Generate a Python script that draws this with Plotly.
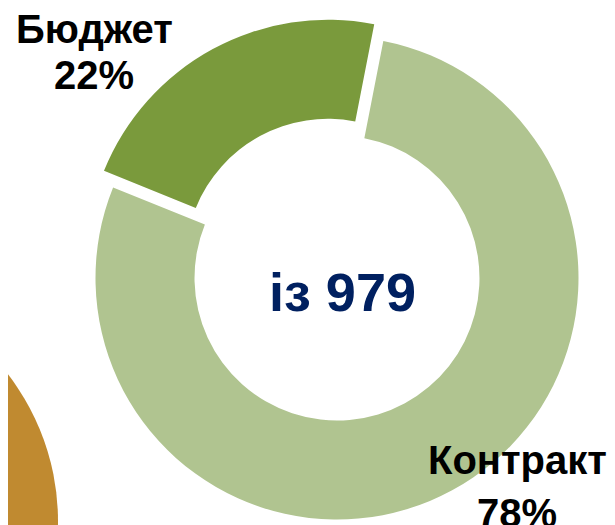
import plotly.graph_objects as go

# data
categories = ["Бюджет", "Контракт"]
counts = [215, 764]
total = sum(counts)
percents = [round(100 * c / total) for c in counts]

slice_colors = ["#7A9A3C", "#B0C490"]
font_style = dict(family="Arial, Liberation Sans", color="#000000", size=40)

# the page body has an 8px margin, so the figure is drawn 8px in
OFF = 8
W, H = 615 - OFF, 525 - OFF


def px(x):
    return (x - OFF) / W


def py(y):
    return 1 - (y - OFF) / H


def domain_for(cx, cy, r):
    # window pixel centre / radius -> paper domain (margins are zero)
    return dict(x=[px(cx - r), px(cx + r)], y=[py(cy + r), py(cy - r)])


common = dict(
    labels=categories,
    values=counts,
    hole=0.59,
    sort=False,
    direction="clockwise",
    rotation=-68,
    textinfo="none",
    hoverinfo="label+percent",
    showlegend=False,
)

fig = go.Figure()

# Контракт ring
fig.add_trace(go.Pie(
    **common,
    marker=dict(colors=["rgba(0,0,0,0)", slice_colors[1]]),
    domain=domain_for(337, 278, 241.5),
))

# Бюджет slice, pulled out along its bisector
fig.add_trace(go.Pie(
    **common,
    marker=dict(colors=[slice_colors[0], "rgba(0,0,0,0)"]),
    domain=domain_for(327.9, 261.3, 241.5),
))

# neighbouring chart, cropped at the bottom-left
fig.add_shape(
    type="circle", xref="paper", yref="paper",
    x0=px(-182 - 240), x1=px(-182 + 240),
    y0=py(521 + 240), y1=py(521 - 240),
    fillcolor="#C08A30", line_width=0, layer="below",
)

label_pos = [(94, 29, 75), (517, 460, 513)]
for cat, pct, (x, y1, y2) in zip(categories, percents, label_pos):
    fig.add_annotation(x=px(x), y=py(y1), xref="paper", yref="paper",
                       text=f"<b>{cat}</b>", showarrow=False,
                       xanchor="center", yanchor="middle", font=font_style)
    fig.add_annotation(x=px(x), y=py(y2), xref="paper", yref="paper",
                       text=f"<b>{pct}%</b>", showarrow=False,
                       xanchor="center", yanchor="middle", font=font_style)

fig.add_annotation(x=px(342.5), y=py(292), xref="paper", yref="paper",
                   text=f"<b>із {total}</b>", showarrow=False,
                   xanchor="center", yanchor="middle",
                   font=dict(family="Arial, Liberation Sans", color="#002060", size=54))

fig.update_layout(
    width=W, height=H,
    margin=dict(l=0, r=0, t=0, b=0),
    paper_bgcolor="white",
    plot_bgcolor="white",
)

fig.write_html("out.html")
